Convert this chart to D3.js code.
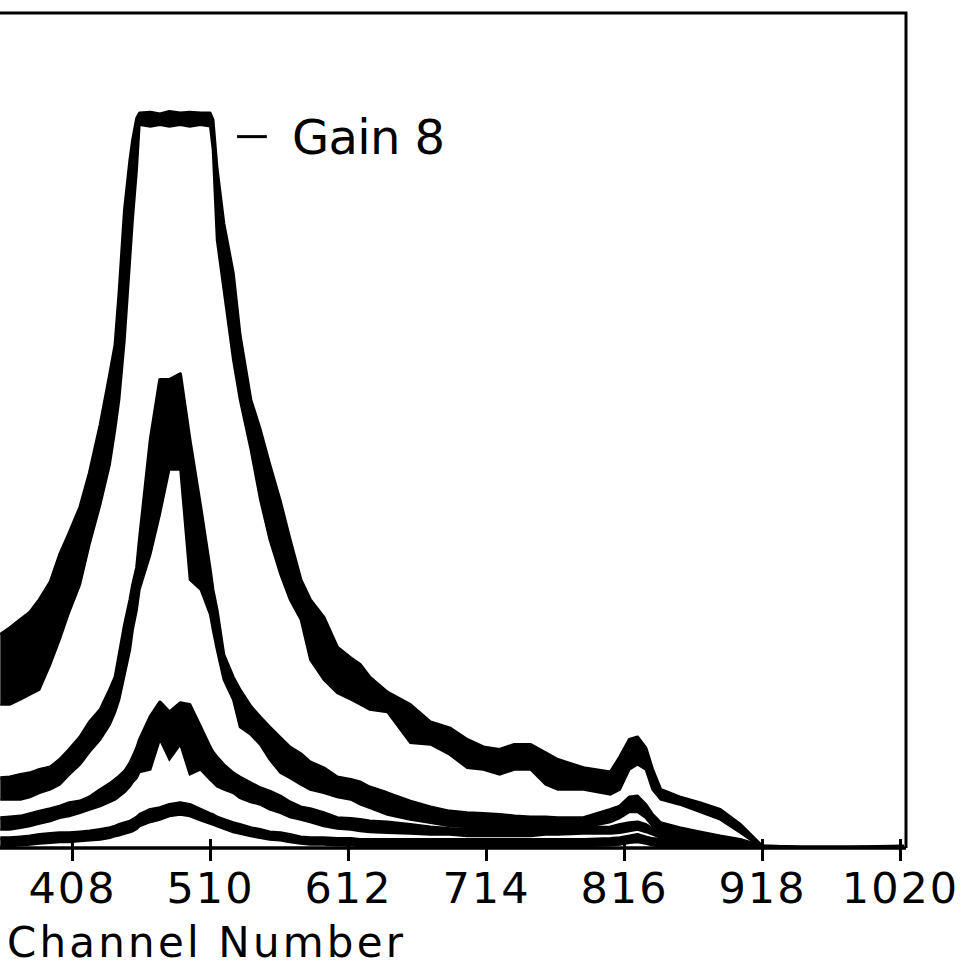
<!DOCTYPE html>
<html>
<head>
<meta charset="utf-8">
<script src="https://cdn.jsdelivr.net/npm/d3@7"></script>
<style>
  body { margin: 0; background: #fff; }
  text { font-family: 'DejaVu Sans', sans-serif; fill: #000; }
</style>
</head>
<body>
<svg id="drawing_region"></svg>
<script>
// channel grid shared by all four spectra
const channels = [355, 362, 370, 377, 384, 392, 399, 406, 414, 421,
    429, 436, 440, 443, 447, 451, 453, 456, 458, 466,
    473, 480, 488, 495, 503, 510, 512, 515, 520, 527,
    532, 540, 547, 554, 562, 569, 577, 584, 594, 604,
    614, 621, 628, 641, 658, 673, 687, 700, 712, 724,
    735, 747, 758, 767, 786, 806, 813, 820, 826, 832,
    837, 843, 857, 872, 887, 902, 918, 946, 983, 1023];

// counts (arbitrary units) - top and bottom of the noisy band
const gain8Hi = [256, 264, 274, 283, 298, 319, 352, 378, 409, 450,
    508, 568, 604, 667, 766, 826, 850, 876, 882, 883,
    881, 884, 882, 883, 882, 882, 874, 816, 750, 690,
    616, 538, 502, 460, 415, 370, 322, 298, 277, 241,
    228, 220, 205, 187, 172, 151, 144, 130, 121, 118,
    124, 124, 114, 106, 96, 91, 109, 130, 133, 120,
    94, 70, 61, 54, 46, 28, 2, 1, 1, 2];
const gain8Lo = [172, 172, 178, 184, 190, 220, 250, 283, 316, 364,
    412, 460, 502, 538, 610, 706, 754, 814, 868, 866,
    868, 866, 868, 866, 868, 866, 838, 730, 670, 586,
    538, 478, 418, 370, 328, 298, 274, 226, 202, 186,
    178, 172, 166, 163, 126, 124, 112, 96, 94, 88,
    94, 94, 76, 70, 70, 64, 70, 94, 100, 94,
    70, 58, 52, 43, 34, 18, 0, 0, 0, 0];

const gain4Hi = [84, 85, 88, 90, 94, 97, 106, 118, 133, 151,
    166, 190, 205, 232, 268, 298, 316, 337, 370, 490,
    562, 562, 569, 490, 409, 334, 310, 286, 232, 205,
    190, 170, 157, 145, 132, 121, 113, 103, 96, 85,
    82, 79, 73, 66, 56, 49, 44, 42, 41, 40,
    38, 37, 37, 36, 36, 46, 50, 61, 62, 52,
    40, 30, 24, 19, 14, 10, 2, 1, 1, 1];
const gain4Lo = [58, 58, 58, 61, 66, 70, 76, 88, 100, 115,
    130, 148, 163, 178, 208, 238, 262, 286, 310, 352,
    400, 454, 454, 322, 310, 280, 262, 238, 202, 178,
    145, 136, 124, 106, 90, 84, 76, 70, 66, 61,
    58, 52, 48, 40, 34, 30, 26, 25, 25, 24,
    24, 24, 24, 24, 24, 31, 36, 43, 43, 36,
    26, 20, 16, 12, 7, 4, 0, 0, 0, 0];

const gain2Hi = [36, 37, 38, 41, 44, 47, 50, 54, 56, 61,
    70, 77, 82, 86, 92, 102, 109, 120, 130, 158,
    175, 163, 174, 172, 145, 121, 115, 109, 100, 90,
    85, 78, 72, 68, 62, 55, 49, 47, 42, 36,
    35, 34, 32, 31, 28, 25, 23, 22, 22, 22,
    22, 22, 23, 23, 24, 25, 28, 30, 31, 28,
    23, 19, 16, 13, 10, 6, 1, 0, 0, 0];
const gain2Lo = [22, 22, 24, 26, 29, 32, 36, 38, 42, 46,
    50, 55, 58, 62, 67, 74, 79, 84, 91, 94,
    130, 106, 124, 88, 94, 82, 79, 74, 70, 66,
    60, 55, 52, 46, 42, 37, 34, 31, 26, 23,
    22, 20, 19, 18, 17, 16, 16, 14, 14, 14,
    14, 14, 16, 16, 17, 17, 18, 20, 22, 19,
    16, 12, 10, 7, 5, 2, 0, 0, 0, 0];

const gain1Hi = [12, 12, 13, 14, 16, 17, 18, 18, 19, 20,
    22, 24, 26, 28, 30, 32, 34, 37, 40, 46,
    48, 52, 54, 52, 46, 41, 40, 37, 34, 30,
    28, 24, 22, 19, 18, 16, 13, 12, 12, 11,
    11, 10, 10, 10, 10, 10, 10, 10, 10, 10,
    10, 10, 10, 10, 10, 11, 12, 14, 16, 13,
    11, 10, 8, 7, 6, 4, 1, 0, 0, 0];
const gain1Lo = [2, 2, 3, 4, 5, 6, 7, 7, 8, 9,
    10, 12, 14, 15, 17, 19, 20, 23, 26, 31,
    34, 38, 40, 38, 33, 29, 28, 26, 23, 19,
    17, 14, 12, 10, 9, 7, 5, 4, 4, 3,
    3, 2, 2, 2, 2, 2, 2, 2, 2, 2,
    2, 2, 2, 2, 2, 3, 4, 6, 7, 5,
    3, 2, 1, 1, 0, 0, 0, 0, 0, 0];

const tickChannels = [408, 510, 612, 714, 816, 918, 1020];
const xTitle = 'Channel Number';
const seriesLabel = 'Gain 8';

class SpectrumChart {

    constructor( config ) {
        this.config = {
            parent: '#drawing_region',
            width: config.width || 968,
            height: config.height || 980,
            plot: config.plot || {left:0, right:906, top:13, bottom:848}
        }
        this.series = [
            {name:'gain8', hi:gain8Hi, lo:gain8Lo},
            {name:'gain4', hi:gain4Hi, lo:gain4Lo},
            {name:'gain2', hi:gain2Hi, lo:gain2Lo},
            {name:'gain1', hi:gain1Hi, lo:gain1Lo}
        ];
        this.init();
        this.render();
    }

    init() {
        let self = this;
        const p = self.config.plot;

        self.svg = d3.select( self.config.parent )
            .attr('width', self.config.width)
            .attr('height', self.config.height);

        self.xscale = d3.scaleLinear()
            .domain([408, 1020])
            .range([72, 900]);

        self.yscale = d3.scaleLinear()
            .domain([0, 1000])
            .range([p.bottom, 15]);

        self.svg.append('clipPath')
            .attr('id', 'plot_clip')
          .append('rect')
            .attr('x', p.left)
            .attr('y', p.top)
            .attr('width', p.right - p.left)
            .attr('height', p.bottom - p.top);
    }

    render() {
        let self = this;
        const p = self.config.plot;
        const x = self.xscale, y = self.yscale;

        const band = d3.area()
            .x((d, i) => x(channels[i]))
            .y0(d => y(d.lo))
            .y1(d => y(d.hi));
        const top = d3.line()
            .x((d, i) => x(channels[i]))
            .y(d => y(d.hi));
        const bottom = d3.line()
            .x((d, i) => x(channels[i]))
            .y(d => y(d.lo));

        const plot = self.svg.append('g')
            .attr('clip-path', 'url(#plot_clip)');

        // Draw spectra as noisy bands
        self.series.forEach(s => {
            const pts = s.hi.map((v, i) => ({hi:v, lo:s.lo[i]}));
            plot.append('path')
                .datum(pts)
                .attr('d', band)
                .attr('fill', '#000');
            plot.append('path')
                .datum(pts)
                .attr('d', top)
                .attr('fill', 'none')
                .attr('stroke', '#000')
                .attr('stroke-width', 3.5)
                .attr('stroke-linejoin', 'round');
            plot.append('path')
                .datum(pts)
                .attr('d', bottom)
                .attr('fill', 'none')
                .attr('stroke', '#000')
                .attr('stroke-width', 2);
        });

        // Frame: top and right edges
        self.svg.append('path')
            .attr('d', `M${p.left},${p.top}H${p.right}V${p.bottom}`)
            .attr('fill', 'none')
            .attr('stroke', '#000')
            .attr('stroke-width', 3);

        // Draw the axis
        const xaxis = d3.axisBottom( x )
            .tickValues(tickChannels)
            .tickFormat(d3.format('d'))
            .tickSizeInner(12)
            .tickSizeOuter(0);

        const xaxis_group = self.svg.append('g')
            .attr('transform', `translate(0, ${p.bottom})`)
            .call( xaxis );

        xaxis_group.select('.domain').remove();
        xaxis_group.append('line')
            .attr('x1', p.left)
            .attr('x2', p.right)
            .attr('stroke', '#000')
            .attr('stroke-width', 3.5);
        xaxis_group.selectAll('.tick line')
            .attr('y1', -9)
            .attr('y2', 13)
            .attr('stroke', '#000')
            .attr('stroke-width', 3);
        xaxis_group.selectAll('.tick text')
            .attr('y', 55)
            .attr('dy', 0)
            .attr('font-size', 43)
            .attr('letter-spacing', 2)
            .attr('font-family', 'DejaVu Sans')
            .attr('fill', '#000');

        self.svg.append('text')
            .attr('x', 7)
            .attr('y', 957)
            .attr('font-size', 42)
            .attr('textLength', 396)
            .attr('lengthAdjust', 'spacing')
            .text(xTitle);

        // Series label next to the saturated peak
        const labelY = y(d3.max(gain8Hi)) + 25;
        self.svg.append('line')
            .attr('x1', x(530))
            .attr('x2', x(552))
            .attr('y1', labelY)
            .attr('y2', labelY)
            .attr('stroke', '#000')
            .attr('stroke-width', 3);
        self.svg.append('text')
            .attr('x', 292)
            .attr('y', labelY + 17)
            .attr('font-size', 48)
            .attr('textLength', 153)
            .attr('lengthAdjust', 'spacing')
            .text(seriesLabel);
    }
}

new SpectrumChart({width:968, height:980});
</script>
</body>
</html>
